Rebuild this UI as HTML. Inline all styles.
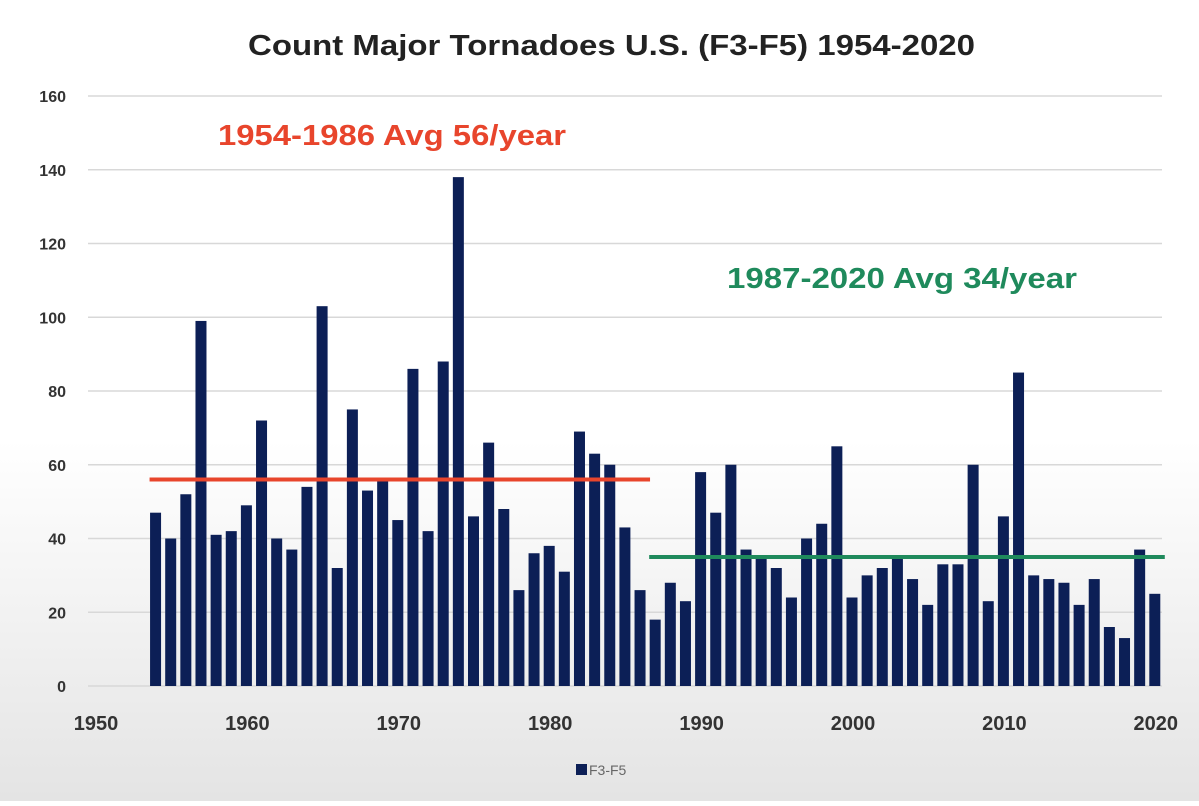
<!DOCTYPE html>
<html><head><meta charset="utf-8"><style>
body{margin:0;width:1199px;height:801px;overflow:hidden;background:linear-gradient(#fff 0,#fff 55%,#e4e4e4 100%);font-family:"Liberation Sans",sans-serif}
svg text{font-family:"Liberation Sans",sans-serif}
</style></head><body>
<svg id="c" width="1199" height="801"></svg>
<script>
const years=[];for(let y=1954;y<=2020;y++)years.push(y);
const counts=[47,40,52,99,41,42,49,72,40,37,54,103,32,75,53,56,45,86,42,88,138,46,66,48,26,36,38,31,69,63,60,43,26,18,28,23,58,47,60,37,35,32,24,40,44,65,24,30,32,35,29,22,33,33,60,23,46,85,30,29,28,22,29,16,13,37,25];
const yTicks=[0,20,40,60,80,100,120,140,160];
const xTicks=[1950,1960,1970,1980,1990,2000,2010,2020];
const avgs=[{from:1954,to:1986,v:56,c:"#e8452c"},{from:1987,to:2020,v:35,c:"#1f8a5c"}];
const X=y=>95+(y-1950)*15.14, Y=v=>686-v*3.6875;
const s=document.getElementById('c'),NS="http://www.w3.org/2000/svg";
function el(t,a,txt){const e=document.createElementNS(NS,t);for(const k in a)e.setAttribute(k,a[k]);if(txt!=null)e.textContent=txt;s.appendChild(e);return e;}
let t=el('text',{x:248,y:55,'font-size':29,'font-weight':'bold',fill:'#222',textLength:727,lengthAdjust:'spacingAndGlyphs'},'Count Major Tornadoes U.S. (F3-F5) 1954-2020');

yTicks.forEach(v=>{
 let g=el('line',{x1:88,x2:1162,y1:Y(v),y2:Y(v),stroke:'#d8d8d8','stroke-width':1.5});
 
 let l=el('text',{x:66,y:Y(v)+6,'text-anchor':'end','font-size':16,'font-weight':'bold',fill:'#333'},v);
 
});
xTicks.forEach(v=>{
 let l=el('text',{x:X(v)+1,y:730,'text-anchor':'middle','font-size':20,'font-weight':'bold',fill:'#333'},v);
 
});
years.forEach((y,i)=>{
 let b=el('rect',{x:X(y)-5.5,y:Y(counts[i]),width:11,height:Y(0)-Y(counts[i]),fill:'#0c1f56'});
 
});
avgs.forEach(a=>{
 let l=el('line',{x1:X(a.from)-6,x2:X(a.to)+10,y1:Y(a.v),y2:Y(a.v),stroke:a.c,'stroke-width':4});
 
});
let r=el('text',{x:218,y:145,'font-size':29,'font-weight':'bold',fill:'#e8452c',textLength:348,lengthAdjust:'spacingAndGlyphs'},'1954-1986 Avg 56/year');

let g2=el('text',{x:727,y:288,'font-size':29,'font-weight':'bold',fill:'#1f8a5c',textLength:350,lengthAdjust:'spacingAndGlyphs'},'1987-2020 Avg 34/year');

let ls=el('rect',{x:576,y:764,width:11,height:11,fill:'#0c1f56'});

let lt=el('text',{x:589,y:775,'font-size':14,fill:'#666'},'F3-F5');

</script>
</body></html>
